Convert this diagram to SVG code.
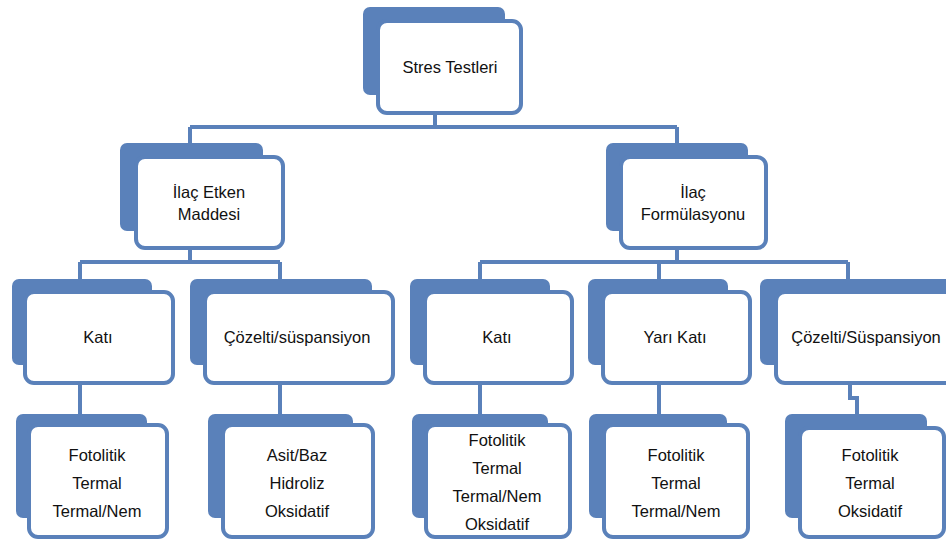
<svg xmlns="http://www.w3.org/2000/svg" width="946" height="542" viewBox="0 0 946 542">
<style>
.back{fill:#5A81BA}
.front{fill:#fff;stroke:#5A81BA;stroke-width:4}
.con{fill:none;stroke:#5A81BA;stroke-width:4}
text{font-family:"Liberation Sans",Arial,sans-serif;font-size:16.5px;fill:#111;text-anchor:middle}
</style>
<rect width="946" height="542" fill="#fff"/>
<g id="connectors" class="con">
<path d="M435,113 V127 M190,127 H677 M190,127 V143 M677,127 V143"/>
<path d="M190,248 V262 M80,262 H280 M80,262 V279 M280,262 V279"/>
<path d="M677,248 V262 M480,262 H848 M480,262 V279 M659,262 V279 M848,262 V279"/>
<path d="M80,383 V414 M280,383 V414 M480,383 V414 M659,383 V414 M850,383 V398 H857 V414"/>
</g>
<g id="n-stres">
<rect class="back" x="363" y="7" width="142" height="88" rx="7"/>
<rect class="front" x="378" y="21" width="143" height="92" rx="9"/>
<text x="450" y="73">Stres Testleri</text>
</g>
<g id="n-etken">
<rect class="back" x="120" y="143" width="143" height="88" rx="7"/>
<rect class="front" x="136" y="157" width="147" height="91" rx="9"/>
<text x="209" y="198">İlaç Etken</text>
<text x="209" y="220">Maddesi</text>
</g>
<g id="n-formul">
<rect class="back" x="606" y="143" width="142" height="88" rx="7"/>
<rect class="front" x="621" y="157" width="145" height="91" rx="9"/>
<text x="693" y="198">İlaç</text>
<text x="693" y="220">Formülasyonu</text>
</g>
<g id="n-kati1">
<rect class="back" x="12" y="279" width="140" height="86" rx="7"/>
<rect class="front" x="25" y="292" width="148" height="91" rx="9"/>
<text x="98" y="343">Katı</text>
</g>
<g id="n-cozelti1">
<rect class="back" x="190" y="279" width="182" height="86" rx="7"/>
<rect class="front" x="205" y="292" width="188" height="91" rx="9"/>
<text x="297" y="343">Çözelti/süspansiyon</text>
</g>
<g id="n-kati2">
<rect class="back" x="410" y="279" width="140" height="86" rx="7"/>
<rect class="front" x="425" y="292" width="147" height="91" rx="9"/>
<text x="497" y="343">Katı</text>
</g>
<g id="n-yarikati">
<rect class="back" x="588" y="279" width="140" height="86" rx="7"/>
<rect class="front" x="603" y="292" width="147" height="91" rx="9"/>
<text x="675" y="343">Yarı Katı</text>
</g>
<g id="n-cozelti2">
<rect class="back" x="760" y="279" width="200" height="86" rx="7"/>
<rect class="front" x="776" y="292" width="190" height="91" rx="9"/>
<text x="866" y="343">Çözelti/Süspansiyon</text>
</g>
<g id="n-b1">
<rect class="back" x="16" y="414" width="131" height="104" rx="7"/>
<rect class="front" x="29" y="425" width="138" height="112" rx="9"/>
<text x="97" y="461">Fotolitik</text>
<text x="97" y="489">Termal</text>
<text x="97" y="517">Termal/Nem</text>
</g>
<g id="n-b2">
<rect class="back" x="208" y="414" width="145" height="104" rx="7"/>
<rect class="front" x="223" y="425" width="150" height="112" rx="9"/>
<text x="297" y="461">Asit/Baz</text>
<text x="297" y="489">Hidroliz</text>
<text x="297" y="517">Oksidatif</text>
</g>
<g id="n-b3">
<rect class="back" x="412" y="414" width="136" height="104" rx="7"/>
<rect class="front" x="426" y="425" width="144" height="112" rx="9"/>
<text x="497" y="446">Fotolitik</text>
<text x="497" y="474">Termal</text>
<text x="497" y="502">Termal/Nem</text>
<text x="497" y="530">Oksidatif</text>
</g>
<g id="n-b4">
<rect class="back" x="589" y="414" width="138" height="104" rx="7"/>
<rect class="front" x="604" y="425" width="144" height="112" rx="9"/>
<text x="676" y="461">Fotolitik</text>
<text x="676" y="489">Termal</text>
<text x="676" y="517">Termal/Nem</text>
</g>
<g id="n-b5">
<rect class="back" x="785" y="414" width="142" height="104" rx="7"/>
<rect class="front" x="800" y="428" width="144" height="109" rx="9"/>
<text x="870" y="461">Fotolitik</text>
<text x="870" y="489">Termal</text>
<text x="870" y="517">Oksidatif</text>
</g>
</svg>
